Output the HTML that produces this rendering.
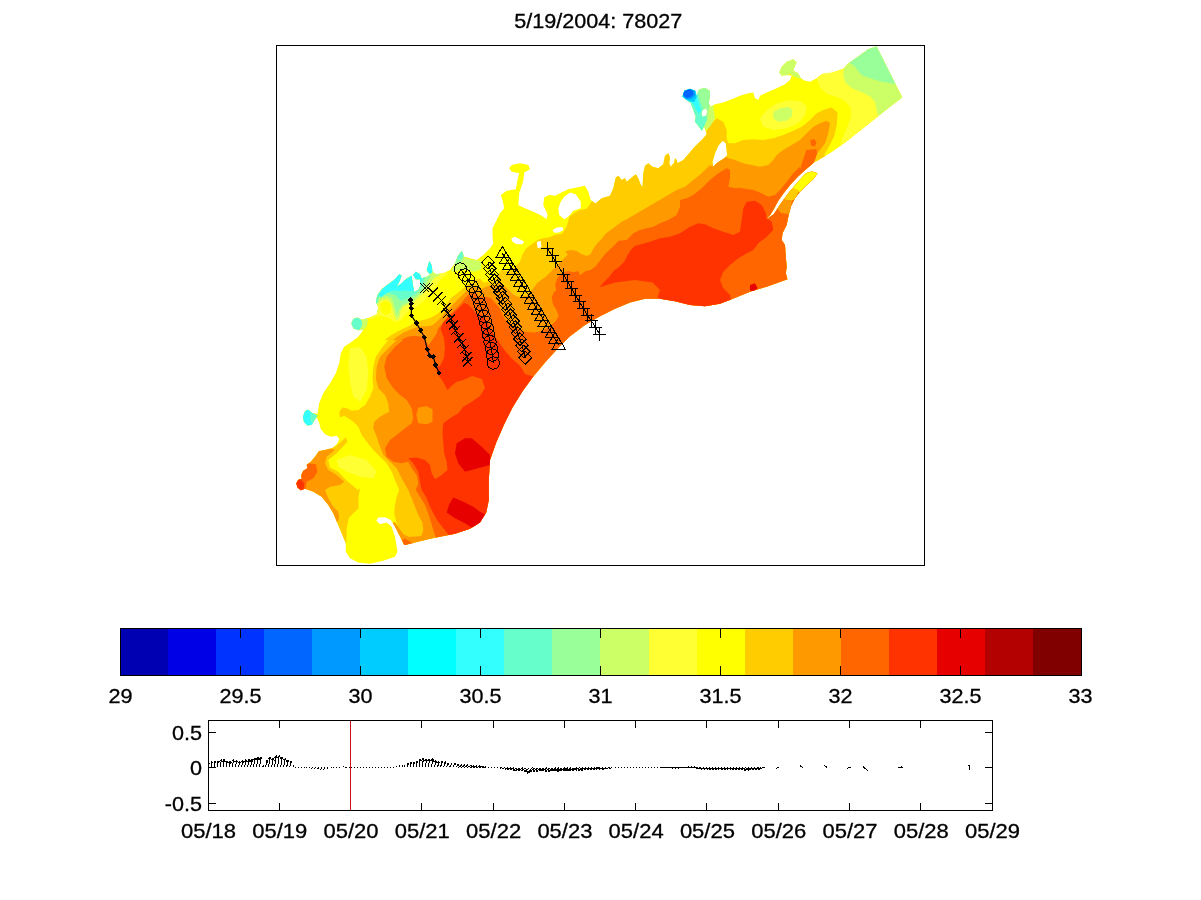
<!DOCTYPE html>
<html><head><meta charset="utf-8"><title>5/19/2004: 78027</title>
<style>html,body{margin:0;padding:0;background:#fff;}svg{display:block;}text{font-family:"Liberation Sans",sans-serif;fill:#000;stroke:#000;stroke-width:0.3px;}</style>
</head><body>
<svg width="1201" height="900" viewBox="0 0 1201 900">
<rect x="0" y="0" width="1201" height="900" fill="#fff"/>
<text transform="translate(598.3,27.5) scale(1.08,1)" font-size="20" text-anchor="middle">5/19/2004: 78027</text>
<g id="map" shape-rendering="geometricPrecision">
<defs><clipPath id="dom"><path clip-rule="evenodd" d="M370,563.7 L358.3,562.5 L350,558.3 L345.8,551.7 L345.8,543.3 L341.7,533.3 L337.5,523.3 L333.3,513.3 L328.3,505 L321.7,496.7 L313.3,491.7 L305,488.7 L300.8,490.3 L297.5,487.5 L296.3,483.3 L298.3,479.7 L301.7,478.7 L301.3,475 L303.3,470.8 L307.5,468.3 L306.7,464.7 L310.8,461.7 L315.8,455.8 L318.7,451.3 L325,450 L332.5,448 L337.5,443.3 L339.2,438.7 L336.7,435.8 L330.8,436.7 L325,434.2 L320.8,429.2 L319.2,423.3 L318,420 L317,417.5 L314.2,420.8 L312,424.7 L307.5,425.7 L303.8,422 L302.8,416.7 L305,411 L308.3,409.5 L312,413 L317.5,413.7 L319.2,403.3 L323.3,393.3 L330,383.3 L335.8,373.3 L339.2,363.3 L340.8,353.3 L344.2,346.7 L351.7,341.7 L358.3,336.7 L363.3,330 L358.3,330.3 L353.3,328.3 L351.3,323.3 L353.3,318.7 L357.5,317.5 L361.7,319.7 L370,317.5 L376.7,314.2 L378.3,307.5 L375.8,301.7 L377.5,295 L381.7,289.2 L388.3,284.2 L395,279.2 L399.2,274.2 L401.7,275.8 L399.2,281.7 L396.7,286.7 L401.7,283.3 L406.7,278.3 L411.7,275.8 L412.5,283.3 L414.2,291.7 L418.3,290 L420.8,285 L420,279.2 L415.8,279.2 L413.3,275 L415.8,271.7 L420,274.2 L421.7,278.3 L426.7,276.7 L430,275 L426.7,270 L429.2,260.8 L431.7,265 L432.5,271.7 L435.8,274.2 L443.3,273.3 L450,270 L455,263.3 L457.5,256.7 L461.7,250.8 L464.2,256.7 L470,258.3 L476.7,260 L483.3,255 L490,248.3 L493.3,243.3 L492.5,236.7 L492.5,228.3 L496.7,220 L500,213.3 L504.2,208.3 L502.5,200 L500.8,195 L506.7,190.8 L515.8,189.2 L517.5,180 L519.2,173.3 L511.7,171.7 L509.2,168.3 L511.7,165 L520,163.3 L528.3,165 L530,169.2 L524.2,172.5 L523.3,180.8 L519.2,193.3 L518.3,205 L523.3,207.5 L533.3,211.7 L541.7,215.8 L546.7,219.2 L547.5,214.2 L543.3,205 L544.2,197.5 L549.2,195 L555,195.8 L560,193.3 L568.3,189.2 L576.7,187.5 L585,185.8 L588.3,191.7 L590.8,200 L595,203.3 L595.8,203.3 L601.7,198.3 L610,195.8 L613.3,188.3 L615.8,177.5 L618.3,175.8 L621.7,180 L625,178.3 L626.7,181.7 L631.7,177.5 L635.8,174.2 L638.3,178.3 L640.8,185 L642.5,186.7 L643.3,173.3 L645,165.8 L648.3,163.3 L652.5,166.7 L658.3,168.3 L663.3,164.2 L665,155.8 L668.3,153.3 L670,157.5 L669.2,163.3 L670.8,166.7 L674.2,162.5 L675,158.3 L676.7,160 L677.5,163.3 L683.3,160 L688.3,154.2 L693.3,148.3 L698.3,143.3 L703.3,138.3 L706.7,134.2 L704.2,126.7 L701.7,130.8 L698.3,125.8 L695,121.7 L695.8,116.7 L693.3,110 L690.8,103.3 L686.7,100 L682.5,96.7 L684.2,90.8 L690,88.8 L695.3,90.8 L696.3,95.8 L697.5,93.3 L699.2,89.2 L705,88 L709.7,90.8 L710,96.7 L708.7,103.3 L710.8,106.7 L715,104.2 L723.3,102.5 L731.7,99.2 L740,95.8 L748.3,93.3 L753.3,92.5 L755,98.3 L758.3,100 L760,95.8 L766.7,92.5 L776.7,88.3 L785,84.2 L790,80 L791.7,75.8 L786.7,75 L781.7,75.8 L779.2,72.5 L781.7,66.7 L786.7,61.7 L793.3,59.2 L796.7,62.5 L794.2,67.5 L793.3,70.8 L798.3,73.3 L800.8,78.3 L805,80.8 L810,81.7 L816.7,78.3 L821.7,74.2 L828.3,72.5 L836.7,69.2 L821.2,75.6 L834,72 L843.9,68.4 L848.2,63.5 L859.6,55.6 L868.1,49.2 L876.6,46.4 L902.2,97.6 L888,108.3 L873.8,119.7 L859.6,131 L845.3,142.4 L831.1,152.4 L816.9,160.9 L815,161.7 L806.7,168.7 L798.3,176.3 L790.8,184.2 L784.2,192.5 L778.3,200.8 L773.3,210 L770,215.3 L765.8,219.2 L767.5,218.5 L773.7,214.3 L780,204.8 L788.3,193.2 L798.3,181.5 L805.8,173.3 L811.7,171.5 L817.5,173.3 L813.3,179.2 L806.7,185 L800,191.7 L795,198.3 L790.8,206.7 L788.3,216.7 L786.7,225 L782.5,233.3 L781.7,240 L785,245 L785.8,256.7 L786.7,266.7 L785.8,273.3 L787.5,279.2 L766.7,286.7 L750,291.7 L731.7,299.2 L720,303.8 L705,306.2 L690,305 L675,301.2 L660,298.8 L645,298.8 L630,302.5 L615,308.8 L600,316.2 L585,325 L570,336.2 L557.5,348.8 L545,362.5 L532.5,377.5 L522.5,391.2 L512.5,407.5 L503.8,425 L496.2,442.5 L490,460 L488.8,480 L488.8,500 L486.2,512.5 L480,522.5 L470,528.8 L455,533.8 L430,538.8 L405,545 L404.2,545 L400,536.7 L395,526.7 L390.8,520 L385,517.2 L378.3,517.5 L376.3,520.8 L380,524.2 L386.7,522.5 L391.7,526.7 L395,536.7 L397.5,551.7 L395,556.7 L383.3,560.8Z M564.2,196.7 L570,192.5 L575.8,194.2 L580.8,201.7 L580.8,208.3 L573.3,210.8 L568.3,216.7 L564.2,219.2 L559.2,215 L558.3,208.3 L560.8,201.7Z M552.5,230 L556.7,227.5 L562.5,227 L563.3,230 L559.2,232.5 L554.2,232.8Z M511.3,238.3 L515,236.7 L520,239.2 L524.2,241.7 L522.5,244.2 L516.7,244.2 L512.5,241.7Z M536.7,241.7 L540.8,240.8 L541.7,247.5 L537.5,248.3Z M722.5,140.8 L725.8,143.3 L727.2,155 L724.2,158.3 L717.5,162.5 L713,166.7 L712.5,161.7 L715,153.3 L718.3,145.8Z M702.5,110 L705.8,108.3 L707.5,111.7 L705.8,115.8 L702.5,117 L701.3,113.3Z"/></clipPath></defs>
<path fill-rule="evenodd" fill="#ffff00" d="M370,563.7 L358.3,562.5 L350,558.3 L345.8,551.7 L345.8,543.3 L341.7,533.3 L337.5,523.3 L333.3,513.3 L328.3,505 L321.7,496.7 L313.3,491.7 L305,488.7 L300.8,490.3 L297.5,487.5 L296.3,483.3 L298.3,479.7 L301.7,478.7 L301.3,475 L303.3,470.8 L307.5,468.3 L306.7,464.7 L310.8,461.7 L315.8,455.8 L318.7,451.3 L325,450 L332.5,448 L337.5,443.3 L339.2,438.7 L336.7,435.8 L330.8,436.7 L325,434.2 L320.8,429.2 L319.2,423.3 L318,420 L317,417.5 L314.2,420.8 L312,424.7 L307.5,425.7 L303.8,422 L302.8,416.7 L305,411 L308.3,409.5 L312,413 L317.5,413.7 L319.2,403.3 L323.3,393.3 L330,383.3 L335.8,373.3 L339.2,363.3 L340.8,353.3 L344.2,346.7 L351.7,341.7 L358.3,336.7 L363.3,330 L358.3,330.3 L353.3,328.3 L351.3,323.3 L353.3,318.7 L357.5,317.5 L361.7,319.7 L370,317.5 L376.7,314.2 L378.3,307.5 L375.8,301.7 L377.5,295 L381.7,289.2 L388.3,284.2 L395,279.2 L399.2,274.2 L401.7,275.8 L399.2,281.7 L396.7,286.7 L401.7,283.3 L406.7,278.3 L411.7,275.8 L412.5,283.3 L414.2,291.7 L418.3,290 L420.8,285 L420,279.2 L415.8,279.2 L413.3,275 L415.8,271.7 L420,274.2 L421.7,278.3 L426.7,276.7 L430,275 L426.7,270 L429.2,260.8 L431.7,265 L432.5,271.7 L435.8,274.2 L443.3,273.3 L450,270 L455,263.3 L457.5,256.7 L461.7,250.8 L464.2,256.7 L470,258.3 L476.7,260 L483.3,255 L490,248.3 L493.3,243.3 L492.5,236.7 L492.5,228.3 L496.7,220 L500,213.3 L504.2,208.3 L502.5,200 L500.8,195 L506.7,190.8 L515.8,189.2 L517.5,180 L519.2,173.3 L511.7,171.7 L509.2,168.3 L511.7,165 L520,163.3 L528.3,165 L530,169.2 L524.2,172.5 L523.3,180.8 L519.2,193.3 L518.3,205 L523.3,207.5 L533.3,211.7 L541.7,215.8 L546.7,219.2 L547.5,214.2 L543.3,205 L544.2,197.5 L549.2,195 L555,195.8 L560,193.3 L568.3,189.2 L576.7,187.5 L585,185.8 L588.3,191.7 L590.8,200 L595,203.3 L595.8,203.3 L601.7,198.3 L610,195.8 L613.3,188.3 L615.8,177.5 L618.3,175.8 L621.7,180 L625,178.3 L626.7,181.7 L631.7,177.5 L635.8,174.2 L638.3,178.3 L640.8,185 L642.5,186.7 L643.3,173.3 L645,165.8 L648.3,163.3 L652.5,166.7 L658.3,168.3 L663.3,164.2 L665,155.8 L668.3,153.3 L670,157.5 L669.2,163.3 L670.8,166.7 L674.2,162.5 L675,158.3 L676.7,160 L677.5,163.3 L683.3,160 L688.3,154.2 L693.3,148.3 L698.3,143.3 L703.3,138.3 L706.7,134.2 L704.2,126.7 L701.7,130.8 L698.3,125.8 L695,121.7 L695.8,116.7 L693.3,110 L690.8,103.3 L686.7,100 L682.5,96.7 L684.2,90.8 L690,88.8 L695.3,90.8 L696.3,95.8 L697.5,93.3 L699.2,89.2 L705,88 L709.7,90.8 L710,96.7 L708.7,103.3 L710.8,106.7 L715,104.2 L723.3,102.5 L731.7,99.2 L740,95.8 L748.3,93.3 L753.3,92.5 L755,98.3 L758.3,100 L760,95.8 L766.7,92.5 L776.7,88.3 L785,84.2 L790,80 L791.7,75.8 L786.7,75 L781.7,75.8 L779.2,72.5 L781.7,66.7 L786.7,61.7 L793.3,59.2 L796.7,62.5 L794.2,67.5 L793.3,70.8 L798.3,73.3 L800.8,78.3 L805,80.8 L810,81.7 L816.7,78.3 L821.7,74.2 L828.3,72.5 L836.7,69.2 L821.2,75.6 L834,72 L843.9,68.4 L848.2,63.5 L859.6,55.6 L868.1,49.2 L876.6,46.4 L902.2,97.6 L888,108.3 L873.8,119.7 L859.6,131 L845.3,142.4 L831.1,152.4 L816.9,160.9 L815,161.7 L806.7,168.7 L798.3,176.3 L790.8,184.2 L784.2,192.5 L778.3,200.8 L773.3,210 L770,215.3 L765.8,219.2 L767.5,218.5 L773.7,214.3 L780,204.8 L788.3,193.2 L798.3,181.5 L805.8,173.3 L811.7,171.5 L817.5,173.3 L813.3,179.2 L806.7,185 L800,191.7 L795,198.3 L790.8,206.7 L788.3,216.7 L786.7,225 L782.5,233.3 L781.7,240 L785,245 L785.8,256.7 L786.7,266.7 L785.8,273.3 L787.5,279.2 L766.7,286.7 L750,291.7 L731.7,299.2 L720,303.8 L705,306.2 L690,305 L675,301.2 L660,298.8 L645,298.8 L630,302.5 L615,308.8 L600,316.2 L585,325 L570,336.2 L557.5,348.8 L545,362.5 L532.5,377.5 L522.5,391.2 L512.5,407.5 L503.8,425 L496.2,442.5 L490,460 L488.8,480 L488.8,500 L486.2,512.5 L480,522.5 L470,528.8 L455,533.8 L430,538.8 L405,545 L404.2,545 L400,536.7 L395,526.7 L390.8,520 L385,517.2 L378.3,517.5 L376.3,520.8 L380,524.2 L386.7,522.5 L391.7,526.7 L395,536.7 L397.5,551.7 L395,556.7 L383.3,560.8Z M564.2,196.7 L570,192.5 L575.8,194.2 L580.8,201.7 L580.8,208.3 L573.3,210.8 L568.3,216.7 L564.2,219.2 L559.2,215 L558.3,208.3 L560.8,201.7Z M552.5,230 L556.7,227.5 L562.5,227 L563.3,230 L559.2,232.5 L554.2,232.8Z M511.3,238.3 L515,236.7 L520,239.2 L524.2,241.7 L522.5,244.2 L516.7,244.2 L512.5,241.7Z M536.7,241.7 L540.8,240.8 L541.7,247.5 L537.5,248.3Z M722.5,140.8 L725.8,143.3 L727.2,155 L724.2,158.3 L717.5,162.5 L713,166.7 L712.5,161.7 L715,153.3 L718.3,145.8Z M702.5,110 L705.8,108.3 L707.5,111.7 L705.8,115.8 L702.5,117 L701.3,113.3Z"/>
<g clip-path="url(#dom)">
<path fill="#ffcc00" d="M404.2,545 L400,531.7 L396.7,523.3 L394.2,513.3 L395,505 L396.7,496.7 L399.2,490 L395,480 L391.7,471.7 L386.7,463.3 L380,456.7 L373.3,450 L366.7,441.7 L361.7,435 L358.3,426.7 L353.3,421.7 L348.3,418.3 L344.2,415.8 L340,417.5 L339.2,411.7 L342.5,407.5 L346.7,408.3 L351.7,410.8 L358.3,410 L365,405 L370,396.7 L373.3,388.3 L372.5,378.3 L373.3,366.7 L375.8,356.7 L381.7,348.3 L388.3,340 L384.3,340.3 L390.2,335.7 L396,332.2 L403,328.7 L408.8,326.3 L414.7,322.8 L420.5,320.5 L426.3,319.3 L432.2,317 L438,313.5 L442.7,308.8 L447.3,303 L450.8,298.3 L456.7,293.7 L462.5,289 L468.3,284.3 L474.2,280.3 L480,278.5 L483.8,282.7 L488.5,281.5 L493.2,280.3 L496.7,278 L499,273.3 L501.3,269.8 L506,271 L510.7,269.8 L515.3,266.3 L520,261.7 L522.3,254.7 L525.8,248.8 L531.7,244.2 L538.7,239.5 L543.3,238.3 L549.2,237.2 L555,234.8 L562,233.7 L566.7,226.7 L569.3,216.7 L574.7,212.7 L580,210 L586.7,208.7 L590.7,203.3 L592,200.7 L593,190 L600,165 L640,140 L685,140 L705,133.7 L710,125.3 L716.7,118.3 L723.3,121.7 L726.7,130 L726.7,138.3 L728.3,143.3 L735,143.3 L743.3,140 L753.3,139.2 L763.3,140 L773.3,138.3 L783.3,135 L793.3,130.8 L801.7,126.7 L810,120 L816.7,113.3 L823.3,110 L831.7,107.5 L837.5,112.5 L836.8,125.3 L834,136.7 L829.7,145.3 L824,155.2 L845,160 L935,150 L935,575 L404,575Z"/>
<path fill="#ff9900" d="M425,546.7 L424.2,541.7 L421.7,535.8 L423.3,530 L422.5,522.5 L418.3,515 L415,506.7 L411.7,498.3 L408.3,490 L401.7,478.3 L396.7,468.3 L390,461.7 L383.3,455 L380,446.7 L376.7,436.7 L373.3,428.3 L374.2,421.7 L380,416.7 L389.2,411.7 L388.3,403.3 L385,395 L378.3,388.3 L375.8,378.3 L376.7,366.7 L380,356.7 L388.3,348.3 L396.7,340 L392.5,340.3 L398.3,335.7 L404.2,332.2 L410,329.8 L415.8,327.5 L421.7,326.3 L427.5,326.3 L432.2,325.2 L436.8,321.7 L441.5,317 L445,312.3 L449.7,307.7 L454.3,303 L459,298.3 L463.7,293.7 L468.3,289 L474.2,286.7 L480,289.7 L485,287.3 L489.7,285.6 L494.3,285 L499,283.8 L502.5,285 L506,287.3 L509.5,290.8 L513,294.3 L517.7,296.7 L522.3,296.7 L527,295.5 L530.5,292 L534,287.3 L537.5,282.7 L542.2,279.2 L546.8,275.7 L551.5,271 L557.3,265.2 L563.2,259.3 L567.8,254.7 L565.3,251.3 L570.7,250 L576,250.7 L581.3,254 L586.7,256 L590.7,254 L593.3,248.7 L597.3,243.3 L601.3,239.3 L605.3,234 L610.7,230 L616,226 L621.3,222 L626.7,219.3 L676.7,190 L685,186.7 L693.3,180 L701.7,173.3 L706.7,168.3 L710,165 L712.5,166.7 L712.5,165 L715,161.7 L726.7,156.7 L728.3,158.3 L735,160 L743.3,163.3 L751.7,165 L760,166.7 L768.3,165 L773.3,160 L776.7,155 L783.3,150 L791.7,145 L800,140 L806.7,133.3 L813.3,126.7 L820,123.3 L826.7,120.8 L830,123.3 L828.3,133.3 L825,143.3 L820,150 L815,156.7 L810,163.3 L835,165 L935,575 L404,575 L425,575Z"/>
<path fill="#ff6600" d="M437.5,546.7 L436.7,540 L433.3,530 L430.8,521.7 L428.3,513.3 L425,505 L420,496.7 L415.8,490 L418.3,483.3 L416.7,475 L411.7,468.3 L408.3,461.7 L401.7,463.3 L393.3,461.7 L386.7,456.7 L385,448.3 L390,440 L396.7,435 L405,428.3 L411.7,423.3 L413.3,418.3 L411.7,408.3 L406.7,400 L400,395 L393.3,388.3 L386.7,378.3 L384.2,366.7 L386.7,356.7 L395,346.7 L403.3,340 L400.7,340.3 L407.7,336.8 L414.7,335.7 L421.7,336.8 L426.3,341.5 L428.7,345 L432.2,340.3 L436.8,333.3 L438,328.7 L442.7,322.8 L447.3,317 L452,312.3 L456.7,307.7 L461.3,303 L464.8,298.3 L469.5,293.7 L474.2,291.3 L479.2,296.7 L485,296.7 L491,298.2 L491,298.2 L499.2,307.5 L505,319.2 L510.8,325 L520.2,329.7 L526,332 L535.3,332.6 L542.3,330.8 L549.3,327.3 L556.3,320.3 L558.7,315.7 L556.3,309.8 L552.8,304 L551.7,297 L554,292.3 L556.3,290 L555,285 L557.3,278 L562,273.3 L567.8,271 L573.7,272.2 L578.3,271 L580,275.3 L585.3,271.3 L590.7,270 L596,266 L600,260.7 L604,255.3 L609.3,250 L614.7,244.7 L618.7,240.7 L626.7,240 L633.3,233.3 L640,230 L646.7,228.3 L653.3,226.7 L660,223.3 L668.3,220 L676.7,215 L680,206.7 L680,200 L686.7,198.3 L693.3,195 L701.7,188.3 L710,180 L718.3,173.3 L726.7,168.3 L730,170 L730,178.3 L728.3,186.7 L735,188.3 L743.3,188.3 L751.7,189.2 L731.7,186.7 L741.7,188.3 L753.3,190 L761.7,193.3 L768.3,196.7 L775,195 L780,190 L786.7,181.7 L793.3,173.3 L800,166.7 L800,169.2 L803,160 L806.5,150 L816.5,149 L817,154 L815,160 L813,165 L830,170 L935,575 L404,575 L445,575Z"/>
<path fill="#ff3300" d="M464,303 L468,304.5 L472,308.5 L475.8,313.3 L484,316.8 L488.7,325 L493.3,334.3 L499.2,342.5 L505,350.7 L512,358.8 L519,364.7 L522.5,369.3 L524.8,374 L545,380 L545,575 L455,575 L451.7,546.7 L450,538.3 L447.5,533.3 L443.3,528.3 L438.3,521.7 L434.2,515 L430,506.7 L426.7,498.3 L421.7,490 L420,481.7 L418.3,471.7 L413.3,463.3 L408.3,458.3 L416.7,457.5 L425,460 L430,465 L431.7,473.3 L435,479.2 L441.7,475 L447.5,470 L446.7,461.7 L444.2,453.3 L443.3,443.3 L442.5,433.3 L443.3,423.3 L450,418.3 L458.3,413.3 L463.3,406.7 L471.7,401.7 L480,396 L485,388 L482,379 L472,376 L463,380 L456.7,381.7 L451.7,385.8 L447.5,390 L443,381.7 L437.5,374 L435.8,366.7 L440,366 L444,358 L445,348 L444,338 L440.5,329 L443,323 L448,317.5 L454.3,312.5 L460,307Z M599.3,287.3 L604,282 L609.3,276.7 L613.3,271.3 L618.7,267.3 L624,262 L626.7,256.7 L630.7,250 L634.7,246 L650,241.7 L660,238.3 L670,236.7 L680,233.3 L690,226.7 L698.3,223.3 L705,224.2 L713.3,228.3 L723.3,231.7 L733.3,235 L740,231.7 L741.7,220 L743.3,208.3 L748.3,201.7 L741.7,220 L743.3,208.3 L746.7,201.7 L755,200.8 L761.7,205 L765.8,213.3 L766.7,218.3 L771.7,221.7 L773.3,230 L766.7,236.7 L758.3,243.3 L753.3,250 L746.7,253.3 L738.3,258.3 L730,265 L723.3,271.7 L720,280 L723.3,288.3 L730,295 L731.7,303.3 L700,320 L657.5,297.5 L660,290 L652.5,282.5 L635,280 L615,282.5Z"/>
<path fill="#e60000" d="M453.3,497.5 L463.3,501.7 L473.3,506.7 L480,511.7 L490,516.7 L490,523.3 L471.7,527.5 L465,523.3 L455,518.3 L446.7,512.5 L449.2,504.2Z"/>
<path fill="#e60000" d="M456.7,443.3 L465,438.3 L471.7,438.3 L481.7,446.7 L490,455 L490,465 L465,471.7 L458.3,463.3 L455,453.3Z"/>
<path fill="#e60000" d="M750,285 L755,283.3 L757.5,288.3 L753.3,291.7 L750,290Z"/>
<path fill="#ff9900" d="M418.3,407.5 L426.7,406.3 L432.5,409.2 L432.5,421.7 L426.7,424.2 L418.3,423.3 L416.3,415Z"/>
<path fill="#ffff00" d="M790,188.7 L795.8,181.7 L805,172.5 L815,169.2 L820,173.3 L815,179.2 L806.7,185.8 L800,192.5 L798,190.5Z"/>
<path fill="#ffcc00" d="M781.7,200 L788.3,189.2 L792.8,187.5 L799.2,190.8 L795.3,198.7 L791.7,200.8 L785.8,200Z"/>
<path fill="#ff9900" d="M776.7,207.5 L782.5,198.8 L791.7,200.8 L791.2,206.7 L788.7,214.2 L780.8,213Z"/>
<path fill="#ffcc00" d="M296.7,491.7 L290,470 L313.3,448.3 L335,446.7 L345.8,437.5 L347.5,441.7 L336.7,453.3 L328.3,460 L330,467.5 L338.3,471.7 L346.7,480.8 L358,490 L360,488.3 L358.3,498.3 L358.7,508.3 L353.3,513.3 L348.7,518.3 L346.7,528.3 L346.3,543.3 L341.7,545 L300,500Z"/>
<path fill="#ff9900" d="M296.7,491.7 L290,470 L313.3,450 L330,448.3 L335,450 L326.7,456.7 L325,463.3 L328.3,470 L336.7,475 L344.2,481.7 L340,485 L330,486.7 L325,490 L328.3,498.3 L333.3,506.7 L338.3,511.7 L339.2,518.3 L336.7,523.3 L320,510 L300,495Z"/>
<path fill="#ff6600" d="M290,483.3 L300,470 L308.3,463.3 L315.8,464.2 L317.5,471.7 L313.3,478.3 L306.7,481.7 L305,491.7 L290,495Z"/>
<path fill="#ff3300" d="M290,481.7 L300.8,479.2 L304.2,483.3 L303.3,491.7 L290,495Z"/>
<path fill="#ffff33" d="M350,348.3 L360,346.7 L366.7,356.7 L368.3,373.3 L366.7,390 L360,401.7 L353.3,396.7 L350,381.7 L348.3,365Z M336.7,460 L350,455 L366.7,460 L376.7,471.7 L373.3,478.3 L360,476.7 L346.7,471.7 L338.3,466.7Z"/>
<path fill="#ffff33" d="M371.5,319.3 L375,317 L379.7,315.8 L386.7,317 L391.3,319.3 L394.8,321.7 L400.7,320.5 L405.3,314.7 L410,310 L417,306.5 L424,300.7 L431,292.5 L436.8,284.3 L442.7,277.3 L448.5,273.8 L433.3,266.8 L410,261 L372.7,279.7 L366.8,310Z"/>
<path fill="#ccff66" d="M373.8,317 L378.5,311.2 L377.3,305.3 L380.8,300.7 L386.7,298.9 L390.8,302.4 L392.5,308.8 L394.3,315.8 L397.2,320.5 L400.1,315.8 L400.7,310 L404.8,305.9 L410,303.6 L414.7,301.3 L419.3,297.2 L424,292.5 L428.7,287.8 L432.2,280.8 L435.7,277.3 L440.3,275 L433.3,269.2 L410,263.3 L375,280.8 L369.2,310Z"/>
<path fill="#99ff99" d="M375,314.7 L377.9,310 L377.1,304.8 L379.7,298.3 L386.7,296 L391.9,298.3 L394.3,305.3 L396,312.3 L397.8,315.8 L398.9,310 L401.8,305.3 L407.7,302.4 L412.3,299.5 L417,296 L421.7,291.3 L425.2,286.7 L427.5,280.8 L431,277.3 L428.7,269.2 L410,263.3 L375,280.8 L371.5,305.3Z"/>
<path fill="#66ffcc" d="M376.2,305.3 L378.5,297.2 L386.7,292.5 L394.8,294.8 L400.7,300.7 L407.7,298.3 L412.3,296 L415.8,293.7 L420.5,289 L422.8,284.3 L424,279.7 L426.3,275 L424,269.2 L410,263.3 L375,280.8Z"/>
<path fill="#33ffff" d="M378.5,294.8 L384.3,286.7 L391.3,279.7 L399.5,272.7 L403,276.2 L405.3,280.3 L410,277.3 L412.3,273.8 L414.7,270.3 L419.3,273.3 L421.7,278.5 L420.5,284.3 L414.7,290.2 L410,291.3 L405.3,290.2 L400.7,291.3 L396,290.2 L390.2,291.3 L384.3,294.8 L380.8,297.2Z M424.6,268 L427.5,262.2 L430.4,259.3 L433.9,263.3 L433.9,270.3 L431,273.8 L426.9,272.7Z"/>
<path fill="#ffff00" d="M380.8,304.2 L384.3,300.7 L389,301.8 L391.3,306.5 L390.2,312.3 L386.7,315.3 L382.6,313.5 L380.3,308.8Z"/>
<path fill="#ccff66" d="M349.3,326.3 L350.5,319.3 L355.2,316.4 L362.2,317 L368,319.3 L366.8,326.3 L361,332.2 L353.4,331.6Z"/>
<path fill="#66ffcc" d="M349.9,326.3 L351.1,320.5 L355.2,317 L359.6,317.7 L362.2,321.7 L361.8,326.3 L358.7,330.8 L353.4,330.4Z"/>
<path fill="#ccff66" d="M450.8,271.5 L454.3,265.1 L455.5,258.7 L457.8,254 L461.3,249.3 L464.8,252.3 L464.3,257.5 L471.8,259.8 L481.2,261 L481.2,269.2 L474.2,271.7 L468.3,270.6 L462.5,269.4 L456.7,270.9Z"/>
<path fill="#99ff99" d="M454.9,265.1 L455.5,259.8 L457.8,255.2 L461.3,249.9 L464.1,252.8 L463.7,257.5 L461.9,261.6 L457.8,263.9Z"/>
<path fill="#66ffcc" d="M456.7,259.8 L458.4,255.2 L461.3,250.7 L463.2,253.1 L462.5,256.9 L460.2,259.3Z"/>
<path fill="#33ffff" d="M301.7,416.7 L304.2,410.8 L308.3,408.7 L312.5,413 L317.5,415.8 L314.2,420.3 L312.5,425 L307.5,426.3 L303.3,422.5Z"/>
<path fill="#66ffcc" d="M310.8,413.3 L317.5,415.3 L314.2,420.3 L312.5,424.2 L310,420Z"/>
<path fill="#ccff66" d="M680,86.7 L711.7,86.7 L713.3,106.7 L715,118.3 L710,126.7 L701.7,133.3 L693.3,123.3 L680,98.3Z"/>
<path fill="#99ff99" d="M680.8,87.5 L710,87.5 L710,103.3 L708.3,111.7 L707.5,120 L701.7,131.7 L693.3,121.7 L690,106.7 L680.8,98.3Z"/>
<path fill="#66ffcc" d="M681.7,88.3 L696.7,88.3 L698.3,95 L700.8,103.3 L705,113.3 L706.7,120 L701.7,131.7 L697.5,125.8 L694.2,121.7 L695,115.8 L692.5,109.2 L690,102.5 L681.7,97.5Z"/>
<path fill="#33ffff" d="M681.7,88.3 L696.3,89.2 L697,96.7 L699.2,105 L700.8,111.7 L698.3,113.3 L695,106.7 L691.7,102.5 L681.7,97.5Z"/>
<path fill="#00ccff" d="M681.7,96.2 L683.3,90.2 L690,88 L696,90.2 L696.7,96.7 L694.2,102 L690,101.2 L685.8,100Z"/>
<path fill="#0099ff" d="M682.3,95.3 L684,90.7 L689.7,88.7 L694.5,90.5 L695.3,95.3 L691.7,98.7 L686.7,99Z"/>
<path fill="#0066ff" d="M683,94.5 L684.7,91 L689.2,89.3 L693,91 L693.3,94.7 L690,97.3 L685.8,97.8Z"/>
<path fill="#ccff66" d="M777.5,73.3 L780.8,65.8 L786.7,60.8 L793.3,58.3 L797.5,62.5 L795,67.5 L793.3,70.8 L799.2,73 L801.7,79.2 L793.3,76.3 L790,73.8 L786.7,75.5 L781.7,76.7Z"/>
<path fill="#ffff33" d="M816.9,78.4 L819.7,86.9 L826.9,94.1 L836.8,96.9 L845.3,101.2 L851,108.3 L851,116.8 L846.8,128.2 L842.5,138.2 L839.7,148.1 L859.6,139.6 L916.5,99.7 L880.9,37.2 L845.3,54.2 L814.1,68.4Z"/>
<path fill="#ffff33" d="M760,118.3 L766.7,110 L776.7,103.3 L790,100 L801.7,101.7 L806.7,106.7 L805,115 L798.3,123.3 L786.7,128.3 L773.3,130 L763.3,126.7Z"/>
<path fill="#ccff66" d="M773.3,111.7 L780,108.3 L788.3,106.7 L792.5,110 L791.7,116.7 L786.7,120.8 L778.3,121.7 L773.3,118.3Z"/>
<path fill="#ccff66" d="M843.9,68.4 L843.2,75.6 L845.3,82.7 L852.5,88.4 L862.4,92.6 L871,96.9 L875.2,102.6 L876.6,109.7 L878.1,117.5 L916.5,99.7 L880.9,37.2 L839.7,61.3Z"/>
<path fill="#99ff99" d="M848.9,62.8 L853.9,65.6 L858.2,71.3 L862.4,75.6 L871,78.4 L879.5,81.3 L888,82.7 L896.6,84.4 L916.5,82.7 L880.9,37.2 L845.3,54.2Z"/>
<path fill="#ff9900" d="M394.6,521.7 L399.2,528.3 L403.3,534.2 L408.3,536.7 L413.3,536.8 L420.8,536 L424.6,531.7 L430.8,529.6 L430.8,541.7 L404.2,547.1 L392.5,523.3Z"/>
<path fill="#ff6600" d="M402.1,540 L405,538.5 L410,541.7 L414.2,543.8 L404.2,547.1Z"/>
<path fill="#ff6600" d="M810.5,140 L814.5,139 L816.5,143 L814.5,146.5 L811,145.5Z"/>
</g>
</g>
<g id="markers" fill="none" stroke="#000" stroke-width="1" shape-rendering="crispEdges">
<polyline points="410.6,300 411.3,303.9 411.4,308.3 411.4,315.6 416.4,323.1 420.6,330.2 424.4,337.2 427.2,349.4 429.8,355.6 433.3,356.9 435.6,365 439.1,373.1" stroke-width="1.2" shape-rendering="auto"/>
<path d="M407.9,300L410.6,297.3L413.3,300L410.6,302.7ZM408.6,303.9L411.3,301.2L414,303.9L411.3,306.6ZM408.7,308.3L411.4,305.6L414.1,308.3L411.4,311ZM408.7,315.6L411.4,312.9L414.1,315.6L411.4,318.3ZM413.7,323.1L416.4,320.4L419.1,323.1L416.4,325.8ZM417.9,330.2L420.6,327.5L423.3,330.2L420.6,332.9ZM421.7,337.2L424.4,334.5L427.1,337.2L424.4,339.9ZM424.5,349.4L427.2,346.7L429.9,349.4L427.2,352.1ZM427.1,355.6L429.8,352.9L432.5,355.6L429.8,358.3ZM430.6,356.9L433.3,354.2L436,356.9L433.3,359.6ZM432.9,365L435.6,362.3L438.3,365L435.6,367.7ZM436.4,373.1L439.1,370.4L441.8,373.1L439.1,375.8Z" fill="#000" stroke="none"/>
<polyline points="427.8,288 433.3,292.2 437.8,296.7 441.7,300.6 445.6,307.8 447.8,313.3 450.6,318.9 453.3,325 455.6,330.6 458.9,337.8 461.7,343.3 464.4,349.4 466.7,356.7 467.8,361.7"/>
<path d="M423.2,283.4L432.4,292.6M423.2,292.6L432.4,283.4M428.7,287.6L437.9,296.8M428.7,296.8L437.9,287.6M433.2,292.1L442.4,301.3M433.2,301.3L442.4,292.1M437.1,296L446.3,305.2M437.1,305.2L446.3,296M441,303.2L450.2,312.4M441,312.4L450.2,303.2M443.2,308.7L452.4,317.9M443.2,317.9L452.4,308.7M446,314.3L455.2,323.5M446,323.5L455.2,314.3M448.7,320.4L457.9,329.6M448.7,329.6L457.9,320.4M451,326L460.2,335.2M451,335.2L460.2,326M454.3,333.2L463.5,342.4M454.3,342.4L463.5,333.2M457.1,338.7L466.3,347.9M457.1,347.9L466.3,338.7M459.8,344.8L469,354M459.8,354L469,344.8M462.1,352.1L471.3,361.3M462.1,361.3L471.3,352.1M463.2,357.1L472.4,366.3M463.2,366.3L472.4,357.1M420.2,283.4L429.4,292.6M420.2,292.6L429.4,283.4"/>
<polyline points="460.4,269 464.7,275 468.7,280.3 472,286.3 475.3,292.3 478,297.7 480,304.3 482,310.3 484,316.3 485.7,322.3 487.3,328.3 488.7,335 490,341.7 491.3,348.3 492.4,355 493.3,363"/>
<circle cx="460.4" cy="269" r="6.2"/>
<circle cx="464.7" cy="275" r="6.2"/>
<circle cx="468.7" cy="280.3" r="6.2"/>
<circle cx="472" cy="286.3" r="6.2"/>
<circle cx="475.3" cy="292.3" r="6.2"/>
<circle cx="478" cy="297.7" r="6.2"/>
<circle cx="480" cy="304.3" r="6.2"/>
<circle cx="482" cy="310.3" r="6.2"/>
<circle cx="484" cy="316.3" r="6.2"/>
<circle cx="485.7" cy="322.3" r="6.2"/>
<circle cx="487.3" cy="328.3" r="6.2"/>
<circle cx="488.7" cy="335" r="6.2"/>
<circle cx="490" cy="341.7" r="6.2"/>
<circle cx="491.3" cy="348.3" r="6.2"/>
<circle cx="492.4" cy="355" r="6.2"/>
<circle cx="493.3" cy="363" r="6.2"/>
<polyline points="488,262.3 489.7,268.5 492,274.5 494.5,280.4 497.1,286.2 499.9,292 502.7,297.8 505.3,303.6 507.9,309.5 510.5,315.4 513.1,321.2 515.4,327.2 517.7,333.2 519.9,339.2 522,345.3 523.7,351.5 525.3,357.7"/>
<path d="M481.6,262.3L488,255.9L494.4,262.3L488,268.7ZM483.3,268.5L489.7,262.1L496.1,268.5L489.7,274.9ZM485.6,274.5L492,268.1L498.4,274.5L492,280.9ZM488.1,280.4L494.5,274L500.9,280.4L494.5,286.8ZM490.7,286.2L497.1,279.8L503.5,286.2L497.1,292.6ZM493.5,292L499.9,285.6L506.3,292L499.9,298.4ZM496.3,297.8L502.7,291.4L509.1,297.8L502.7,304.2ZM498.9,303.6L505.3,297.2L511.7,303.6L505.3,310ZM501.5,309.5L507.9,303.1L514.3,309.5L507.9,315.9ZM504.1,315.4L510.5,309L516.9,315.4L510.5,321.8ZM506.7,321.2L513.1,314.8L519.5,321.2L513.1,327.6ZM509,327.2L515.4,320.8L521.8,327.2L515.4,333.6ZM511.3,333.2L517.7,326.8L524.1,333.2L517.7,339.6ZM513.5,339.2L519.9,332.8L526.3,339.2L519.9,345.6ZM515.6,345.3L522,338.9L528.4,345.3L522,351.7ZM517.3,351.5L523.7,345.1L530.1,351.5L523.7,357.9ZM518.9,357.7L525.3,351.3L531.7,357.7L525.3,364.1Z"/>
<polyline points="502.4,253.5 506,259.2 509.6,264.8 513.3,270.5 516.9,276.1 520.5,281.8 524,287.5 527.4,293.3 530.9,299 534.4,304.8 537.9,310.5 541.4,316.3 544.8,322 548.3,327.8 551.8,333.5 555.2,339.3 558.7,345"/>
<path d="M502.4,246.5L509,257.7L495.8,257.7ZM506,252.2L512.6,263.4L499.4,263.4ZM509.6,257.8L516.2,269L503,269ZM513.3,263.5L519.9,274.7L506.7,274.7ZM516.9,269.1L523.5,280.3L510.3,280.3ZM520.5,274.8L527.1,286L513.9,286ZM524,280.5L530.6,291.7L517.4,291.7ZM527.4,286.3L534,297.5L520.8,297.5ZM530.9,292L537.5,303.2L524.3,303.2ZM534.4,297.8L541,309L527.8,309ZM537.9,303.5L544.5,314.7L531.3,314.7ZM541.4,309.3L548,320.5L534.8,320.5ZM544.8,315L551.4,326.2L538.2,326.2ZM548.3,320.8L554.9,332L541.7,332ZM551.8,326.5L558.4,337.7L545.2,337.7ZM555.2,332.3L561.8,343.5L548.6,343.5ZM558.7,338L565.3,349.2L552.1,349.2Z"/>
<polyline points="547.3,248.1 551.6,255 555.3,261.3 563.3,274.3 567.3,281.3 571.3,288.3 575.3,295 579.1,301.4 583.1,308.1 587.1,314.7 591.1,320.3 595.3,327 599.3,333.7"/>
<path d="M541.3,248.5L553.7,248.5M547.5,242.3L547.5,254.7M546.3,255.5L558.7,255.5M552.5,249.3L552.5,261.7M549.3,261.5L561.7,261.5M555.5,255.3L555.5,267.7M557.3,274.5L569.7,274.5M563.5,268.3L563.5,280.7M561.3,281.5L573.7,281.5M567.5,275.3L567.5,287.7M565.3,288.5L577.7,288.5M571.5,282.3L571.5,294.7M569.3,295.5L581.7,295.5M575.5,289.3L575.5,301.7M573.3,301.5L585.7,301.5M579.5,295.3L579.5,307.7M577.3,308.5L589.7,308.5M583.5,302.3L583.5,314.7M581.3,315.5L593.7,315.5M587.5,309.3L587.5,321.7M585.3,320.5L597.7,320.5M591.5,314.3L591.5,326.7M589.3,327.5L601.7,327.5M595.5,321.3L595.5,333.7M593.3,334.5L605.7,334.5M599.5,328.3L599.5,340.7" shape-rendering="crispEdges"/>
</g>
<rect x="276.5" y="45.5" width="648" height="520" fill="none" stroke="#000" stroke-width="1" shape-rendering="crispEdges"/>
<g shape-rendering="crispEdges">
<rect x="120" y="628" width="48" height="48" fill="#0000b3"/>
<rect x="168" y="628" width="48" height="48" fill="#0000e6"/>
<rect x="216" y="628" width="48" height="48" fill="#0033ff"/>
<rect x="264" y="628" width="48" height="48" fill="#0066ff"/>
<rect x="312" y="628" width="48" height="48" fill="#0099ff"/>
<rect x="360" y="628" width="48" height="48" fill="#00ccff"/>
<rect x="408" y="628" width="48" height="48" fill="#00ffff"/>
<rect x="456" y="628" width="48" height="48" fill="#33ffff"/>
<rect x="504" y="628" width="48" height="48" fill="#66ffcc"/>
<rect x="552" y="628" width="48" height="48" fill="#99ff99"/>
<rect x="600" y="628" width="49" height="48" fill="#ccff66"/>
<rect x="649" y="628" width="48" height="48" fill="#ffff33"/>
<rect x="697" y="628" width="48" height="48" fill="#ffff00"/>
<rect x="745" y="628" width="48" height="48" fill="#ffcc00"/>
<rect x="793" y="628" width="48" height="48" fill="#ff9900"/>
<rect x="841" y="628" width="48" height="48" fill="#ff6600"/>
<rect x="889" y="628" width="48" height="48" fill="#ff3300"/>
<rect x="937" y="628" width="48" height="48" fill="#e60000"/>
<rect x="985" y="628" width="48" height="48" fill="#b30000"/>
<rect x="1033" y="628" width="48" height="48" fill="#800000"/>
<rect x="120.5" y="628.5" width="961" height="47" fill="none" stroke="#000" stroke-width="1"/>
<line x1="240.5" y1="628" x2="240.5" y2="638" stroke="#000"/>
<line x1="240.5" y1="666" x2="240.5" y2="676" stroke="#000"/>
<line x1="360.5" y1="628" x2="360.5" y2="638" stroke="#000"/>
<line x1="360.5" y1="666" x2="360.5" y2="676" stroke="#000"/>
<line x1="480.5" y1="628" x2="480.5" y2="638" stroke="#000"/>
<line x1="480.5" y1="666" x2="480.5" y2="676" stroke="#000"/>
<line x1="600.5" y1="628" x2="600.5" y2="638" stroke="#000"/>
<line x1="600.5" y1="666" x2="600.5" y2="676" stroke="#000"/>
<line x1="720.5" y1="628" x2="720.5" y2="638" stroke="#000"/>
<line x1="720.5" y1="666" x2="720.5" y2="676" stroke="#000"/>
<line x1="840.5" y1="628" x2="840.5" y2="638" stroke="#000"/>
<line x1="840.5" y1="666" x2="840.5" y2="676" stroke="#000"/>
<line x1="960.5" y1="628" x2="960.5" y2="638" stroke="#000"/>
<line x1="960.5" y1="666" x2="960.5" y2="676" stroke="#000"/>
</g>
<text transform="translate(120.5,703) scale(1.08,1)" font-size="20" text-anchor="middle">29</text>
<text transform="translate(240.5,703) scale(1.08,1)" font-size="20" text-anchor="middle">29.5</text>
<text transform="translate(360.5,703) scale(1.08,1)" font-size="20" text-anchor="middle">30</text>
<text transform="translate(480.5,703) scale(1.08,1)" font-size="20" text-anchor="middle">30.5</text>
<text transform="translate(600.5,703) scale(1.08,1)" font-size="20" text-anchor="middle">31</text>
<text transform="translate(720.5,703) scale(1.08,1)" font-size="20" text-anchor="middle">31.5</text>
<text transform="translate(840.5,703) scale(1.08,1)" font-size="20" text-anchor="middle">32</text>
<text transform="translate(960.5,703) scale(1.08,1)" font-size="20" text-anchor="middle">32.5</text>
<text transform="translate(1080.5,703) scale(1.08,1)" font-size="20" text-anchor="middle">33</text>
<g shape-rendering="crispEdges" stroke="#000" stroke-width="1" fill="none">
<rect x="208.5" y="720.5" width="784" height="90"/>
<line x1="279.5" y1="720" x2="279.5" y2="728"/>
<line x1="279.5" y1="803" x2="279.5" y2="811"/>
<line x1="350.5" y1="720" x2="350.5" y2="728"/>
<line x1="350.5" y1="803" x2="350.5" y2="811"/>
<line x1="421.5" y1="720" x2="421.5" y2="728"/>
<line x1="421.5" y1="803" x2="421.5" y2="811"/>
<line x1="493.5" y1="720" x2="493.5" y2="728"/>
<line x1="493.5" y1="803" x2="493.5" y2="811"/>
<line x1="564.5" y1="720" x2="564.5" y2="728"/>
<line x1="564.5" y1="803" x2="564.5" y2="811"/>
<line x1="635.5" y1="720" x2="635.5" y2="728"/>
<line x1="635.5" y1="803" x2="635.5" y2="811"/>
<line x1="706.5" y1="720" x2="706.5" y2="728"/>
<line x1="706.5" y1="803" x2="706.5" y2="811"/>
<line x1="778.5" y1="720" x2="778.5" y2="728"/>
<line x1="778.5" y1="803" x2="778.5" y2="811"/>
<line x1="849.5" y1="720" x2="849.5" y2="728"/>
<line x1="849.5" y1="803" x2="849.5" y2="811"/>
<line x1="920.5" y1="720" x2="920.5" y2="728"/>
<line x1="920.5" y1="803" x2="920.5" y2="811"/>
<line x1="208" y1="732.5" x2="216" y2="732.5"/>
<line x1="985" y1="732.5" x2="993" y2="732.5"/>
<line x1="208" y1="767.5" x2="216" y2="767.5"/>
<line x1="985" y1="767.5" x2="993" y2="767.5"/>
<line x1="208" y1="803.5" x2="216" y2="803.5"/>
<line x1="985" y1="803.5" x2="993" y2="803.5"/>
</g>
<text transform="translate(208.5,838) scale(1.10,1)" font-size="20" text-anchor="middle">05/18</text>
<text transform="translate(279.8,838) scale(1.10,1)" font-size="20" text-anchor="middle">05/19</text>
<text transform="translate(351.0,838) scale(1.10,1)" font-size="20" text-anchor="middle">05/20</text>
<text transform="translate(422.3,838) scale(1.10,1)" font-size="20" text-anchor="middle">05/21</text>
<text transform="translate(493.6,838) scale(1.10,1)" font-size="20" text-anchor="middle">05/22</text>
<text transform="translate(564.9,838) scale(1.10,1)" font-size="20" text-anchor="middle">05/23</text>
<text transform="translate(636.1,838) scale(1.10,1)" font-size="20" text-anchor="middle">05/24</text>
<text transform="translate(707.4,838) scale(1.10,1)" font-size="20" text-anchor="middle">05/25</text>
<text transform="translate(778.7,838) scale(1.10,1)" font-size="20" text-anchor="middle">05/26</text>
<text transform="translate(850.0,838) scale(1.10,1)" font-size="20" text-anchor="middle">05/27</text>
<text transform="translate(921.2,838) scale(1.10,1)" font-size="20" text-anchor="middle">05/28</text>
<text transform="translate(992.5,838) scale(1.10,1)" font-size="20" text-anchor="middle">05/29</text>
<text transform="translate(202,740) scale(1.08,1)" font-size="20" text-anchor="end">0.5</text>
<text transform="translate(202,775) scale(1.08,1)" font-size="20" text-anchor="end">0</text>
<text transform="translate(202,811) scale(1.08,1)" font-size="20" text-anchor="end">-0.5</text>
<g id="series" stroke="#000" stroke-width="1" fill="none" shape-rendering="crispEdges">
<path d="M295,767.5h1M298,767.5h1M301,767.5h1M304,767.5h1M306,767.5h1M309,767.5h1M351,767.5h1M354,767.5h1M357,767.5h1M360,767.5h1M363,767.5h1M366,767.5h1M369,767.5h1M372,767.5h1M375,767.5h1M378,767.5h1M381,767.5h1M384,767.5h1M387,767.5h1M390,767.5h1M393,767.5h1M485,767.5h1M488,767.5h1M491,767.5h1M494,767.5h1M497,767.5h1M500,767.5h1M615,767.5h1M618,767.5h1M621,767.5h1M624,767.5h1M627,767.5h1M630,767.5h1M633,767.5h1M636,767.5h1M639,767.5h1M642,767.5h1M645,767.5h1M648,767.5h1M651,767.5h1M654,767.5h1M657,767.5h1M696,767.5h1"/>
<path d="M208.5,767.5L208.8,762.5M208.8,762.5L209.5,764.0M208.8,762.5L207.9,763.9M211.5,767.5L211.9,761.5M211.9,761.5L212.7,763.3M211.9,761.5L210.8,763.2M214.5,767.5L215.0,760.8M215.0,760.8L215.9,762.8M215.0,760.8L213.8,762.6M217.5,767.5L218.1,760.8M218.1,760.8L219.0,762.9M218.1,760.8L216.9,762.7M220.5,767.5L221.2,759.6M221.2,759.6L222.2,762.0M221.2,759.6L219.7,761.8M223.5,767.5L224.2,759.3M224.2,759.3L225.3,761.8M224.2,759.3L222.7,761.5M226.5,767.5L227.3,760.6M227.3,760.6L228.2,762.8M227.3,760.6L226.0,762.5M229.5,767.5L230.4,760.6M230.4,760.6L231.3,762.7M230.4,760.6L229.1,762.4M232.5,767.5L233.5,759.3M233.5,759.3L234.5,761.8M233.5,759.3L231.9,761.5M235.5,767.5L236.6,760.2M236.6,760.2L237.5,762.5M236.6,760.2L235.1,762.1M238.5,767.5L239.7,761.3M239.7,761.3L240.3,763.3M239.7,761.3L238.4,762.9M241.5,767.5L242.8,760.6M242.8,760.6L243.5,762.8M242.8,760.6L241.4,762.4M244.5,767.5L245.9,759.7M245.9,759.7L246.8,762.2M245.9,759.7L244.3,761.7M247.5,767.5L249.0,759.5M249.0,759.5L249.8,762.1M249.0,759.5L247.3,761.6M250.5,767.5L252.0,759.4M252.0,759.4L252.9,762.0M252.0,759.4L250.3,761.5M253.5,767.5L255.1,757.8M255.1,757.8L256.1,760.6M255.1,757.8L253.2,760.2M256.5,767.5L258.1,757.0M258.1,757.0L259.1,759.8M258.1,757.0L256.3,759.4M259.5,767.5L261.1,756.8M261.1,756.8L262.2,759.6M261.1,756.8L259.3,759.2M262.5,767.5L264.2,764.6M265.5,767.5L267.2,760.4M267.2,760.4L267.8,762.7M267.2,760.4L265.6,762.2M268.5,767.5L270.2,756.9M270.2,756.9L271.2,759.7M270.2,756.9L268.4,759.2M271.5,767.5L273.3,758.0M273.3,758.0L274.2,760.8M273.3,758.0L271.4,760.3M274.5,767.5L276.3,755.4M276.3,755.4L277.3,758.3M276.3,755.4L274.5,757.8M277.5,767.5L279.3,755.5M279.3,755.5L280.4,758.4M279.3,755.5L277.5,757.9M280.5,767.5L282.4,756.9M282.4,756.9L283.3,759.8M282.4,756.9L280.5,759.3M283.5,767.5L285.4,758.3M285.4,758.3L286.3,761.1M285.4,758.3L283.5,760.5M286.5,767.5L288.4,759.9M288.4,759.9L289.1,762.4M288.4,759.9L286.7,761.8M289.5,767.5L291.5,760.7M291.5,760.7L292.0,763.0M291.5,760.7L289.8,762.4M292.5,767.5L294.1,765.3M312.5,767.5L311.5,768.8M315.5,767.5L314.5,768.9M318.5,767.5L317.5,769.5M321.5,767.5L320.5,770.2M324.5,767.5L323.5,770.2M327.5,767.5L327.4,769.2M330.5,767.5L331.5,767.5M333.5,767.5L334.5,766.6M336.5,767.5L337.5,766.7M339.5,767.5L340.5,766.6M342.5,767.5L343.5,766.4M345.5,767.5L346.5,767.3M348.5,767.5L349.5,767.5M396.5,767.5L396.8,765.9M399.5,767.5L399.9,765.2M402.5,767.5L402.9,765.2M404.5,767.5L405.0,764.9M407.5,767.5L408.0,763.4M408.0,763.4L408.5,764.7M408.0,763.4L407.2,764.5M410.5,767.5L411.1,762.5M411.1,762.5L411.7,764.1M411.1,762.5L410.1,763.9M413.5,767.5L414.1,762.5M414.1,762.5L414.7,764.1M414.1,762.5L413.2,763.9M416.5,767.5L417.2,761.3M417.2,761.3L418.0,763.2M417.2,761.3L416.0,763.0M419.5,767.5L420.2,758.9M420.2,758.9L421.4,761.5M420.2,758.9L418.7,761.3M422.5,767.5L423.3,758.1M423.3,758.1L424.5,760.9M423.3,758.1L421.6,760.6M425.5,767.5L426.4,758.8M426.4,758.8L427.5,761.5M426.4,758.8L424.7,761.2M428.5,767.5L429.5,758.7M429.5,758.7L430.6,761.4M429.5,758.7L427.8,761.1M431.5,767.5L432.7,758.6M432.7,758.6L433.8,761.4M432.7,758.6L430.9,761.0M434.5,767.5L435.9,760.6M435.9,760.6L436.6,762.8M435.9,760.6L434.4,762.4M437.5,767.5L439.0,761.6M439.0,761.6L439.5,763.5M439.0,761.6L437.6,763.1M440.5,767.5L442.2,761.0M442.2,761.0L442.7,763.1M442.2,761.0L440.7,762.6M443.5,767.5L445.3,761.5M445.3,761.5L445.8,763.5M445.3,761.5L443.9,762.9M446.5,767.5L448.5,763.0M448.5,763.0L448.6,764.6M448.5,763.0L447.2,764.0M449.5,767.5L452.0,763.3M452.0,763.3L451.9,764.9M452.0,763.3L450.6,764.1M452.5,767.5L455.4,763.1M455.4,763.1L455.2,764.9M455.4,763.1L453.9,763.9M455.5,767.5L458.8,764.0M458.8,764.0L458.4,765.5M458.8,764.0L457.3,764.5M458.5,767.5L462.0,764.8M462.0,764.8L461.4,766.2M462.0,764.8L460.6,765.0M461.5,767.5L465.1,764.7M465.1,764.7L464.5,766.1M465.1,764.7L463.6,765.0M464.5,767.5L468.2,764.7M468.2,764.7L467.5,766.1M468.2,764.7L466.7,764.9M467.5,767.5L471.2,765.3M471.2,765.3L470.5,766.5M471.2,765.3L469.8,765.3M470.5,767.5L474.3,765.7M474.3,765.7L473.5,766.8M474.3,765.7L472.9,765.6M473.5,767.5L477.3,765.7M477.3,765.7L476.5,766.8M477.3,765.7L475.9,765.6M476.5,767.5L480.4,765.9M480.4,765.9L479.5,767.0M480.4,765.9L479.0,765.7M479.5,767.5L483.5,766.4M483.5,766.4L482.5,767.3M483.5,766.4L482.1,766.1M482.5,767.5L485.6,766.8M502.5,767.5L500.0,768.2M505.5,767.5L502.2,768.9M502.2,768.9L502.9,768.0M502.2,768.9L503.4,769.0M508.5,767.5L504.9,769.5M504.9,769.5L505.6,768.3M504.9,769.5L506.2,769.5M511.5,767.5L507.5,769.5M507.5,769.5L508.4,768.3M507.5,769.5L509.0,769.5M514.5,767.5L510.2,769.7M510.2,769.7L511.1,768.4M510.2,769.7L511.8,769.8M517.5,767.5L512.8,770.5M512.8,770.5L513.7,768.9M512.8,770.5L514.6,770.4M520.5,767.5L515.5,770.7M515.5,770.7L516.4,769.0M515.5,770.7L517.5,770.6M523.5,767.5L518.4,770.5M518.4,770.5L519.4,768.8M518.4,770.5L520.4,770.4M526.5,767.5L521.3,771.0M521.3,771.0L522.3,769.2M521.3,771.0L523.4,770.8M529.5,767.5L524.3,771.9M524.3,771.9L525.1,769.8M524.3,771.9L526.5,771.4M532.5,767.5L527.2,773.4M527.2,773.4L527.8,770.8M527.2,773.4L529.7,772.5M535.5,767.5L530.1,771.6M530.1,771.6L531.0,769.6M530.1,771.6L532.3,771.3M538.5,767.5L533.0,771.5M533.0,771.5L534.0,769.5M533.0,771.5L535.3,771.2M541.5,767.5L536.0,771.6M536.0,771.6L536.9,769.6M536.0,771.6L538.2,771.3M544.5,767.5L538.9,770.9M538.9,770.9L540.0,769.0M538.9,770.9L541.1,770.8M547.5,767.5L541.8,770.7M541.8,770.7L543.0,768.8M541.8,770.7L544.0,770.6M550.5,767.5L544.7,771.3M544.7,771.3L545.8,769.3M544.7,771.3L547.0,771.1M553.5,767.5L547.7,771.3M547.7,771.3L548.8,769.3M547.7,771.3L550.0,771.1M556.5,767.5L550.6,770.7M550.6,770.7L551.8,768.8M550.6,770.7L552.8,770.7M559.5,767.5L553.5,770.8M553.5,770.8L554.7,768.9M553.5,770.8L555.8,770.8M562.5,767.5L556.5,771.3M556.5,771.3L557.7,769.3M556.5,771.3L558.9,771.2M565.5,767.5L559.6,770.9M559.6,770.9L560.8,769.0M559.6,770.9L561.9,770.9M568.5,767.5L562.7,770.4M562.7,770.4L563.9,768.6M562.7,770.4L564.8,770.4M571.5,767.5L565.8,770.7M565.8,770.7L566.9,768.8M565.8,770.7L567.9,770.7M574.5,767.5L568.8,770.9M568.8,770.9L569.9,769.0M568.8,770.9L571.0,770.8M577.5,767.5L571.9,770.3M571.9,770.3L573.1,768.6M571.9,770.3L574.0,770.4M580.5,767.5L575.0,769.9M575.0,769.9L576.2,768.3M575.0,769.9L577.0,770.1M583.5,767.5L578.1,770.2M578.1,770.2L579.2,768.5M578.1,770.2L580.1,770.2M586.5,767.5L581.1,770.0M581.1,770.0L582.3,768.4M581.1,770.0L583.1,770.1M589.5,767.5L584.2,769.4M584.2,769.4L585.4,768.0M584.2,769.4L586.0,769.7M592.5,767.5L587.3,769.3M587.3,769.3L588.5,767.9M587.3,769.3L589.1,769.6M595.5,767.5L590.4,769.5M590.4,769.5L591.5,768.1M590.4,769.5L592.2,769.7M598.5,767.5L593.4,769.2M593.4,769.2L594.6,767.9M593.4,769.2L595.2,769.5M600.5,767.5L595.5,768.8M595.5,768.8L596.8,767.6M595.5,768.8L597.2,769.2M603.5,767.5L598.8,768.9M598.8,768.9L599.9,767.7M598.8,768.9L600.4,769.2M606.5,767.5L602.0,769.0M602.0,769.0L603.1,767.9M602.0,769.0L603.6,769.3M609.5,767.5L605.3,768.7M605.3,768.7L606.3,767.7M605.3,768.7L606.7,769.0M612.5,767.5L608.9,768.5M608.9,768.5L609.8,767.6M608.9,768.5L610.1,768.8M660.5,767.5L663.4,768.0M663.5,767.5L666.7,768.0M666.5,767.5L669.9,767.8M669.5,767.5L673.1,767.8M673.1,767.8L672.0,768.3M673.1,767.8L672.1,767.2M672.5,767.5L676.3,767.8M676.3,767.8L675.1,768.3M676.3,767.8L675.2,767.1M675.5,767.5L679.5,767.6M679.5,767.6L678.3,768.2M679.5,767.6L678.3,767.0M678.5,767.5L682.7,767.5M682.7,767.5L681.5,768.2M682.7,767.5L681.5,766.8M681.5,767.5L685.9,767.4M685.9,767.4L684.6,768.1M685.9,767.4L684.6,766.7M684.5,767.5L689.1,767.2M689.1,767.2L687.8,768.0M689.1,767.2L687.7,766.6M687.5,767.5L692.3,767.2M692.3,767.2L690.9,768.0M692.3,767.2L690.8,766.5M690.5,767.5L695.5,767.1M695.5,767.1L694.1,768.0M695.5,767.1L694.0,766.4M693.5,767.5L696.2,767.4M698.5,767.5L695.9,768.2M701.5,767.5L697.5,768.5M697.5,768.5L698.5,767.6M697.5,768.5L698.8,768.9M704.5,767.5L700.4,768.9M700.4,768.9L701.4,767.8M700.4,768.9L701.8,769.1M707.5,767.5L703.3,768.9M703.3,768.9L704.3,767.8M703.3,768.9L704.8,769.2M710.5,767.5L706.2,768.8M706.2,768.8L707.3,767.8M706.2,768.8L707.7,769.1M713.5,767.5L709.2,769.2M709.2,769.2L710.2,768.0M709.2,769.2L710.7,769.4M716.5,767.5L712.1,769.5M712.1,769.5L713.0,768.2M712.1,769.5L713.7,769.6M719.5,767.5L715.0,769.4M715.0,769.4L716.0,768.1M715.0,769.4L716.6,769.6M722.5,767.5L717.9,769.3M717.9,769.3L719.0,768.0M717.9,769.3L719.5,769.5M725.5,767.5L720.9,769.6M720.9,769.6L721.9,768.3M720.9,769.6L722.5,769.7M728.5,767.5L723.8,769.7M723.8,769.7L724.8,768.3M723.8,769.7L725.5,769.8M731.5,767.5L726.7,769.3M726.7,769.3L727.8,768.0M726.7,769.3L728.4,769.6M734.5,767.5L729.6,769.3M729.6,769.3L730.8,768.0M729.6,769.3L731.3,769.6M737.5,767.5L732.6,769.7M732.6,769.7L733.7,768.3M732.6,769.7L734.3,769.8M740.5,767.5L735.5,769.6M735.5,769.6L736.6,768.2M735.5,769.6L737.3,769.8M743.5,767.5L738.2,769.4M738.2,769.4L739.5,768.0M738.2,769.4L740.1,769.7M746.5,767.5L741.0,769.8M741.0,769.8L742.2,768.2M741.0,769.8L742.9,770.0M749.5,767.5L743.8,770.2M743.8,770.2L745.0,768.5M743.8,770.2L745.9,770.4M752.5,767.5L746.5,769.8M746.5,769.8L747.9,768.2M746.5,769.8L748.6,770.1M755.5,767.5L749.3,769.4M749.3,769.4L750.8,767.9M749.3,769.4L751.4,769.8M758.5,767.5L752.0,769.5M752.0,769.5L753.6,767.9M752.0,769.5L754.2,770.0M761.5,767.5L754.8,769.4M754.8,769.4L756.4,767.8M754.8,769.4L757.0,769.9M764.5,767.5L757.5,768.9M757.5,768.9L759.3,767.4M757.5,768.9L759.8,769.6"/>
<path d="M762,767.5h3 M776,768.5l3,-1.5 M800,765.5l3,2.5 M824,765l3,2.5 M847,768.5l4,-1.5 M863,766.5l5,4.5 M898,767.5h5M901,767.5v-1.5 M969.5,764.5v5M968,765.5h1.5"/>
</g>
<line x1="350.5" y1="721" x2="350.5" y2="810" stroke="#cc1020" stroke-width="1" shape-rendering="crispEdges"/>
</svg></body></html>
